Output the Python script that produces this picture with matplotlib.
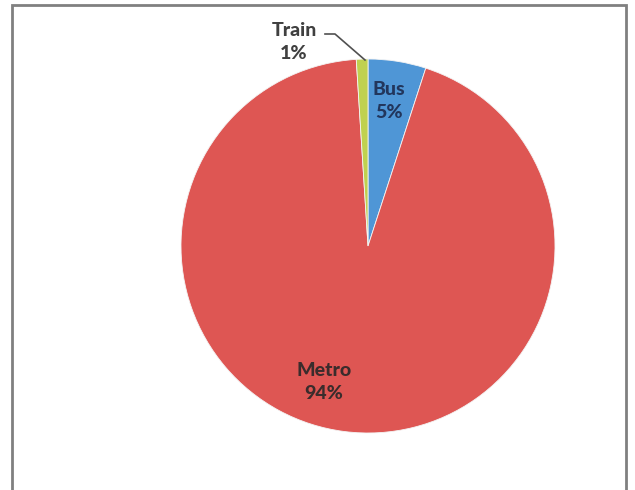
import matplotlib.pyplot as plt

# mode share of trips
modes = ["Bus", "Metro", "Train"]
shares = [5, 94, 1]
colors = ["#4f96d6", "#de5653", "#c0d14f"]
text_colors = ["#22365c", "#3a2c2c", "#404040"]

plt.rcParams['font.family'] = ['Lato', 'DejaVu Sans']

fig = plt.figure(figsize=(6.35, 4.9), dpi=100)
ax = fig.add_axes([0, 0, 1, 1])

wedges, _ = ax.pie(shares, colors=colors, startangle=90, counterclock=False,
                   center=(368, 244), radius=187, frame=True,
                   wedgeprops=dict(edgecolor='#f4f4f4', linewidth=0.6))
ax.set_xlim(0, 635)
ax.set_ylim(0, 490)
ax.axis('off')

# labels
label_pos = {"Bus": (389, 389), "Metro": (324, 108), "Train": (294, 448)}
for m, s, tc in zip(modes, shares, text_colors):
    x, y = label_pos[m]
    ax.text(x, y, f"{m}\n{s}%", ha='center', va='center', fontsize=14,
            fontweight='black', color=tc, linespacing=1.4)

# leader line for the small slice
ax.plot([325, 335, 365], [456, 456, 430], color='#505050', lw=1.2)

# frame around the chart
ax.plot([12, 12, 626, 626], [-5, 485, 485, -5], color='#808080', lw=2,
        solid_joinstyle='miter', clip_on=False)

fig.savefig("out.png", dpi=100)
